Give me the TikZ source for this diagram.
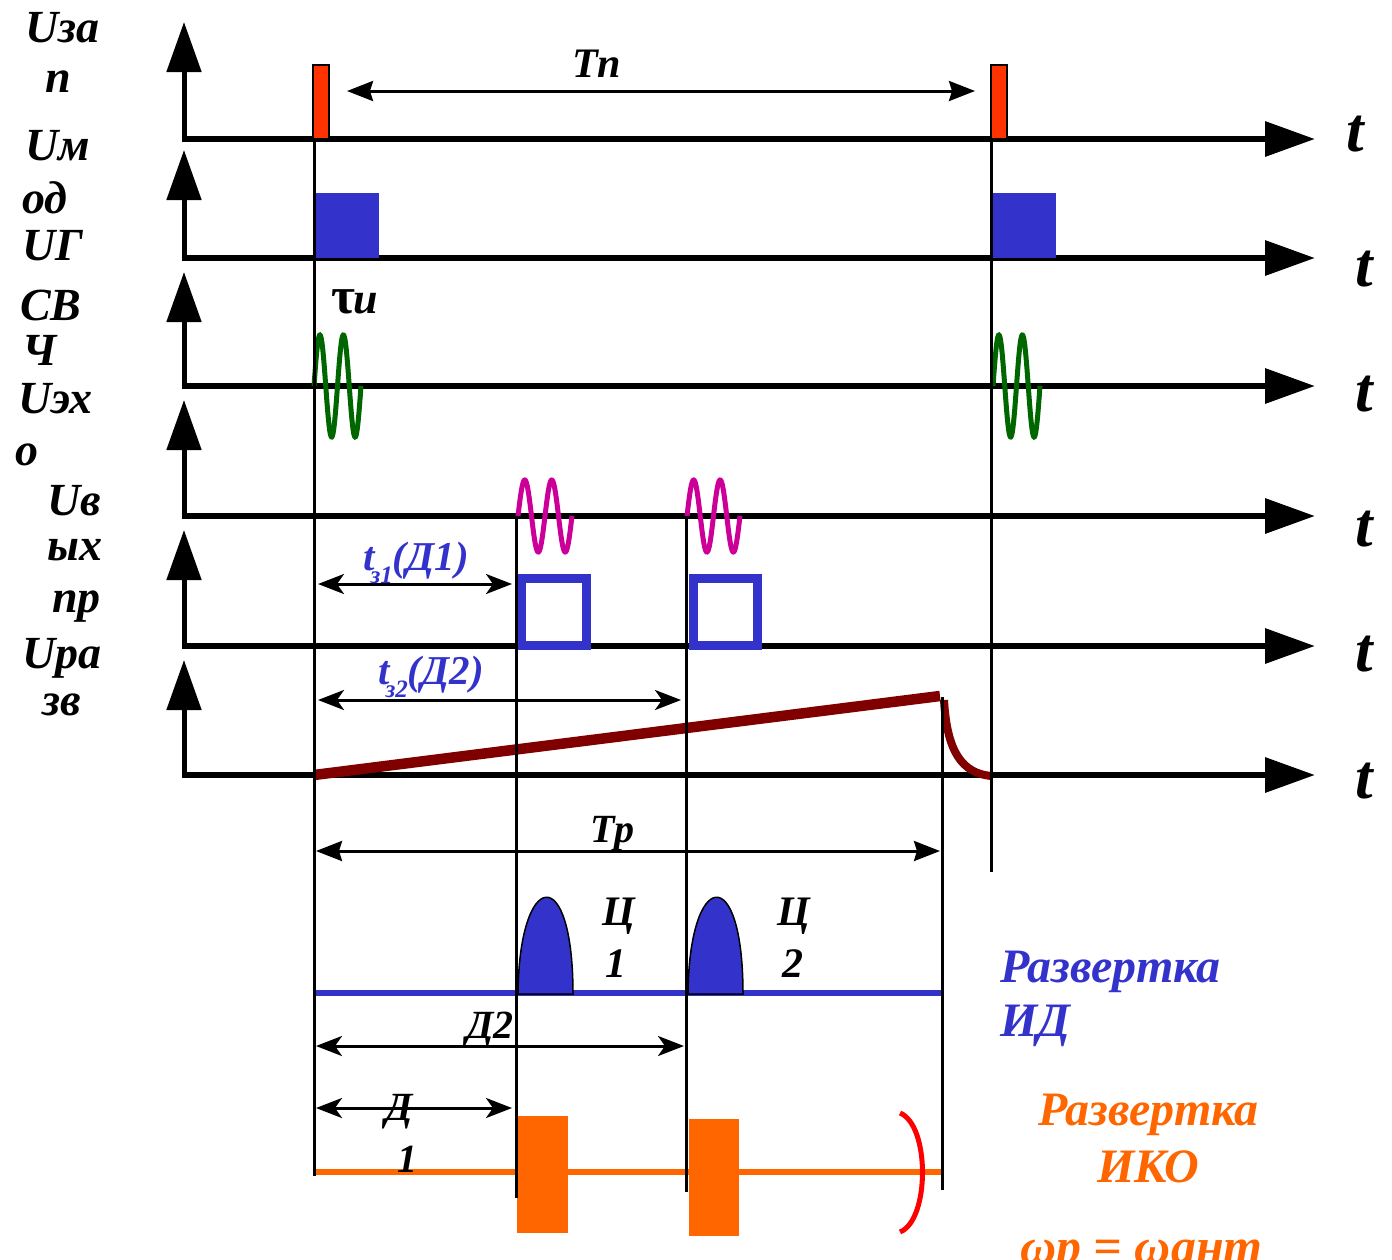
\documentclass[tikz,border=0pt]{standalone}
\usepackage{fontspec}
\setmainfont{Liberation Serif}
\usetikzlibrary{arrows.meta}
\definecolor{myblue}{HTML}{3333CC}
\definecolor{myorange}{HTML}{FF6600}
\definecolor{myred}{HTML}{FF3300}
\definecolor{mygreen}{HTML}{006600}
\definecolor{mymag}{HTML}{CC0099}
\definecolor{mybrown}{HTML}{800000}
\begin{document}
\begin{tikzpicture}[x=1pt,y=-1pt,
  lbl/.style={inner sep=0pt, anchor=base west, font=\fontsize{46}{50}\selectfont\bfseries\itshape},
  mlbl/.style={inner sep=0pt, anchor=base west, font=\fontsize{40}{44}\selectfont\bfseries\itshape},
  tlbl/.style={inner sep=0pt, anchor=base west, font=\fontsize{63}{66}\selectfont\bfseries\itshape},
  haxis/.style={line width=6.5pt, -{Triangle[length=50pt,width=34pt]}},
  vaxis/.style={line width=5pt, -{Triangle[length=50pt,width=34pt]}},
  guide/.style={line width=3pt},
  dimarr/.style={line width=3pt, {Stealth[length=26pt,width=20pt,inset=7pt]}-{Stealth[length=26pt,width=20pt,inset=7pt]}},
  tparr/.style={line width=3pt, {Stealth[length=26pt,width=20pt,inset=3pt]}-{Stealth[length=26pt,width=20pt,inset=3pt]}},
]
\useasboundingbox (0,0) rectangle (1392,1259);
% axes
\foreach \yy/\tp/\n in {139/22/1,258/150/2,386/272/3,516/400/4,646/530/5,775/660/6} {
  \coordinate (o\n) at (181.5,\yy);
  \coordinate (te\n) at (1315,\yy);
  \coordinate (vb\n) at (184,\yy+3);
  \coordinate (ve\n) at (184,\tp);
  \draw[haxis] (o\n) -- (te\n);
  \draw[vaxis] (vb\n) -- (ve\n);
}
% t labels
\node[tlbl] (t1) at (1346,151) {t};
\node[tlbl] (t2) at (1355,286) {t};
\node[tlbl] (t3) at (1355,411) {t};
\node[tlbl] (t4) at (1355,546) {t};
\node[tlbl] (t5) at (1355,671) {t};
\node[tlbl] (t6) at (1355,798) {t};
% left labels
\node[lbl] (l1a) at (25,42) {Uза};
\node[lbl] (l1b) at (45,92) {п};
\node[lbl] (l2a) at (25,160) {Uм};
\node[lbl] (l2b) at (22,213) {од};
\node[lbl] (l3a) at (22,260) {UГ};
\node[lbl] (l3b) at (20,320) {СВ};
\node[lbl] (l3c) at (22,365) {Ч};
\node[lbl] (l4a) at (18,413) {Uэх};
\node[lbl] (l4b) at (15,465) {о};
\node[lbl] (l5a) at (47,515) {Uв};
\node[lbl] (l5b) at (47,560) {ых};
\node[lbl] (l5c) at (52,612) {пр};
\node[lbl] (l6a) at (22,668) {Uра};
\node[lbl] (l6b) at (42,715) {зв};
% red trigger pulses
\draw[fill=myred, line width=2pt] (313,65) rectangle (329,139);
\draw[fill=myred, line width=2pt] (991,65) rectangle (1007,139);
% modulator pulses
\fill[myblue] (315,193) rectangle (379,258);
\fill[myblue] (992,193) rectangle (1056,258);
% green RF bursts
\draw[mygreen, line width=5pt] plot[domain=0:47, samples=120] ({314+\x},{386-51*sin(\x*15.3191)});
\draw[mygreen, line width=5pt] plot[domain=0:47, samples=120] ({993+\x},{386-51*sin(\x*15.3191)});
% magenta echoes
\draw[mymag, line width=5pt] plot[domain=0:54, samples=120] ({518+\x},{516-36*sin(\x*13.3333)});
\draw[mymag, line width=5pt] plot[domain=0:53, samples=120] ({687+\x},{516-36*sin(\x*13.5849)});
% receiver output squares
\draw[myblue, line width=9pt] (521.5,578.5) rectangle (586.5,645.5);
\draw[myblue, line width=9pt] (693.5,578.5) rectangle (757,645.5);
% ramp
\coordinate (r0) at (314,775);
\coordinate (r1) at (940,696);
\draw[mybrown, line width=10.5pt] (r0) -- (r1);
\draw[mybrown, line width=8pt] (944,700) .. controls (947,752) and (962,773) .. (991,776);
% ID sweep
\draw[myblue, line width=6pt] (314,993) -- (942,993);
\draw[fill=myblue, line width=1.5pt] (518,994) .. controls (519,870) and (573,860) .. (573,994) -- cycle;
\draw[fill=myblue, line width=1.5pt] (688,994) .. controls (689,870) and (743,860) .. (743,994) -- cycle;
% IKO sweep
\draw[myorange, line width=6pt] (314,1172) -- (942,1172);
\fill[myorange] (517,1116) rectangle (568,1233);
\fill[myorange] (689,1119) rectangle (739,1236);
\draw[red, line width=5pt] (900,1113) .. controls (930,1125) and (930,1220) .. (900,1232);
% guide lines
\draw[guide] (314,139) -- (314,1176);
\draw[guide] (516,516) -- (516,1198);
\draw[guide] (686,516) -- (686,1192);
\draw[guide] (942,697) -- (942,1190);
\draw[guide] (991,139) -- (991,872);
% dimension arrows
\coordinate (tpa) at (347,91); \coordinate (tpb) at (975,91);
\draw[tparr] (tpa) -- (tpb);
\node[mlbl, font=\fontsize{42}{44}\selectfont\bfseries\itshape] (tp) at (572,77) {Tп};
\node[inner sep=0pt, anchor=base west, font=\fontsize{52}{54}\selectfont\bfseries] (tau) at (331,313) {τ\kern-2pt{\fontsize{44}{44}\selectfont\itshape и}};
\coordinate (z1a) at (318,584); \coordinate (z1b) at (512,584);
\draw[dimarr] (z1a) -- (z1b);
\node[inner sep=0pt, anchor=base west, text=myblue, font=\fontsize{41}{43}\selectfont\bfseries\itshape] (tz1) at (363,570) {t\kern-4pt\raisebox{-13pt}{\fontsize{25}{25}\selectfont з1}(Д1)};
\coordinate (z2a) at (318,700); \coordinate (z2b) at (681,700);
\draw[dimarr] (z2a) -- (z2b);
\node[inner sep=0pt, anchor=base west, text=myblue, font=\fontsize{41}{43}\selectfont\bfseries\itshape] (tz2) at (378,684) {t\kern-4pt\raisebox{-13pt}{\fontsize{25}{25}\selectfont з2}(Д2)};
\coordinate (tra) at (316,851); \coordinate (trb) at (940,851);
\draw[tparr] (tra) -- (trb);
\node[mlbl] (tr) at (590,842) {Tр};
\coordinate (d2a) at (316,1046); \coordinate (d2b) at (684,1046);
\draw[dimarr] (d2a) -- (d2b);
\node[mlbl] (d2) at (466,1038) {Д2};
\coordinate (d1a) at (316,1108); \coordinate (d1b) at (512,1108);
\draw[dimarr] (d1a) -- (d1b);
\node[mlbl] (d1) at (385,1120) {Д};
\node[mlbl] (d1n) at (397,1172) {1};
% target labels
\node[mlbl, font=\fontsize{42}{44}\selectfont\bfseries\itshape] (c1) at (602,925) {Ц};
\node[mlbl, font=\fontsize{42}{44}\selectfont\bfseries\itshape] (c1n) at (605,977) {1};
\node[mlbl, font=\fontsize{42}{44}\selectfont\bfseries\itshape] (c2) at (777,925) {Ц};
\node[mlbl, font=\fontsize{42}{44}\selectfont\bfseries\itshape] (c2n) at (782,977) {2};
% sweep captions
\node[lbl, text=myblue, font=\fontsize{48}{50}\selectfont\bfseries\itshape] (sid1) at (1000,982) {Развертка};
\node[lbl, text=myblue, font=\fontsize{48}{50}\selectfont\bfseries\itshape] (sid2) at (1000,1036) {ИД};
\node[lbl, text=myorange, font=\fontsize{48}{50}\selectfont\bfseries\itshape] (sik1) at (1038,1125) {Развертка};
\node[lbl, text=myorange, font=\fontsize{48}{50}\selectfont\bfseries\itshape] (sik2) at (1097,1182) {ИКО};
\node[lbl, text=myorange, font=\fontsize{50}{52}\selectfont\bfseries\itshape] (omg) at (1020,1263) {ωр = ωант};
\end{tikzpicture}
\end{document}
